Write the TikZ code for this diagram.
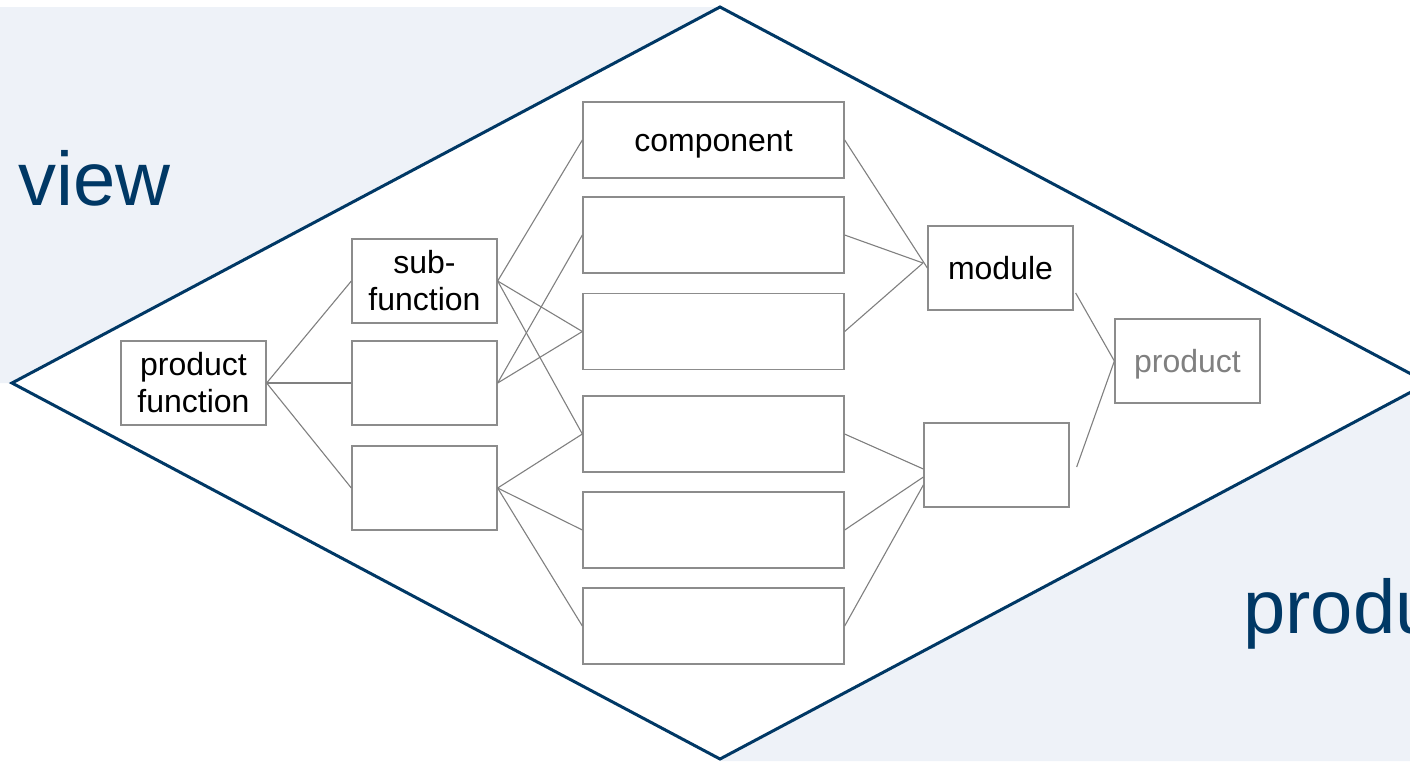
\documentclass[tikz,border=0pt]{standalone}
\usepackage{fontspec}
\setmainfont{Liberation Sans}
\usetikzlibrary{calc}
\definecolor{navy}{RGB}{0,56,101}
\definecolor{haze}{RGB}{238,242,248}
\definecolor{boxgray}{RGB}{140,140,140}
\definecolor{linkgray}{RGB}{128,128,128}
\begin{document}
\begin{tikzpicture}[x=1pt,y=-1pt,
  blk/.style={draw=boxgray, line width=1.3pt, fill=white,
    minimum width=145pt, minimum height=84pt, inner sep=0pt,
    align=center, font=\fontsize{32}{37}\selectfont},
  oneline/.style={text height=27pt, text depth=5pt},
  wide/.style={blk, minimum width=261pt, minimum height=76pt},
  link/.style={draw=linkgray, line width=1.1pt},
  big/.style={text=navy, font=\fontsize{76}{80}\selectfont,
    inner sep=0pt, anchor=base west}]
% canvas
\fill[white] (0,0) rectangle (1410,761);
\useasboundingbox (0,0) rectangle (1410,761);
% shaded corners outside the diamond
\fill[haze] (0,7) -- (720,7) -- (12,383) -- (0,383) -- cycle;
\fill[haze] (1430,383) -- (720,759) -- (720,761) -- (1430,761) -- cycle;
% diamond
\draw[navy, line width=3pt, line join=miter]
  (720,7) -- (1428,383) -- (720,759) -- (12,383) -- cycle;
% side labels
\node[big] (lview) at (18,205) {view};
\node[big] (lprod) at (1243,633) {produ};
% function column
\node[blk] (pf) at (193.5,383) {product\\function};
\node[blk] (sf) at (424.5,281) {sub-\\function};
\node[blk] (f2) at (424.5,383) {};
\node[blk] (f3) at (424.5,488) {};
% component column
\node[wide, oneline] (c1) at (713.5,140) {component};
\node[wide] (c2) at (713.5,235) {};
\node[wide] (c3) at (713.5,331.5) {};
\node[wide] (c4) at (713.5,434) {};
\node[wide] (c5) at (713.5,530) {};
\node[wide] (c6) at (713.5,626) {};
% modules and product
\node[blk, oneline] (mod) at (1000.5,268) {module};
\node[blk] (m2) at (996.5,465) {};
\node[blk, oneline, text=linkgray] (prod) at (1187.5,361) {product};
% junction points
\coordinate (mj) at (923,263);
\coordinate (modout) at ($(mod.east)+(2,25)$);
\coordinate (m2out) at ($(m2.east)+(7,2)$);
% connectors: function tree
\draw[link] (pf.east) -- (sf.west);
\draw[link] (pf.east) -- (f2.west);
\draw[link] (pf.east) -- (f3.west);
% connectors: functions to components
\draw[link] (sf.east) -- (c1.west);
\draw[link] (sf.east) -- (c3.west);
\draw[link] (sf.east) -- (c4.west);
\draw[link] (f2.east) -- (c2.west);
\draw[link] (f2.east) -- (c3.west);
\draw[link] (f3.east) -- (c4.west);
\draw[link] (f3.east) -- (c5.west);
\draw[link] (f3.east) -- (c6.west);
% connectors: components to modules
\draw[link] (c1.east) -- (mod.west);
\draw[link] (c2.east) -- (mj);
\draw[link] (c3.east) -- (mj);
\draw[link] (c4.east) -- ($(m2.west)+(0,4)$);
\draw[link] (c5.east) -- ($(m2.west)+(0,12)$);
\draw[link] (c6.east) -- ($(m2.west)+(0,20)$);
% connectors: modules to product
\draw[link] (modout) -- (prod.west);
\draw[link] (m2out) -- (prod.west);
\end{tikzpicture}
\end{document}
